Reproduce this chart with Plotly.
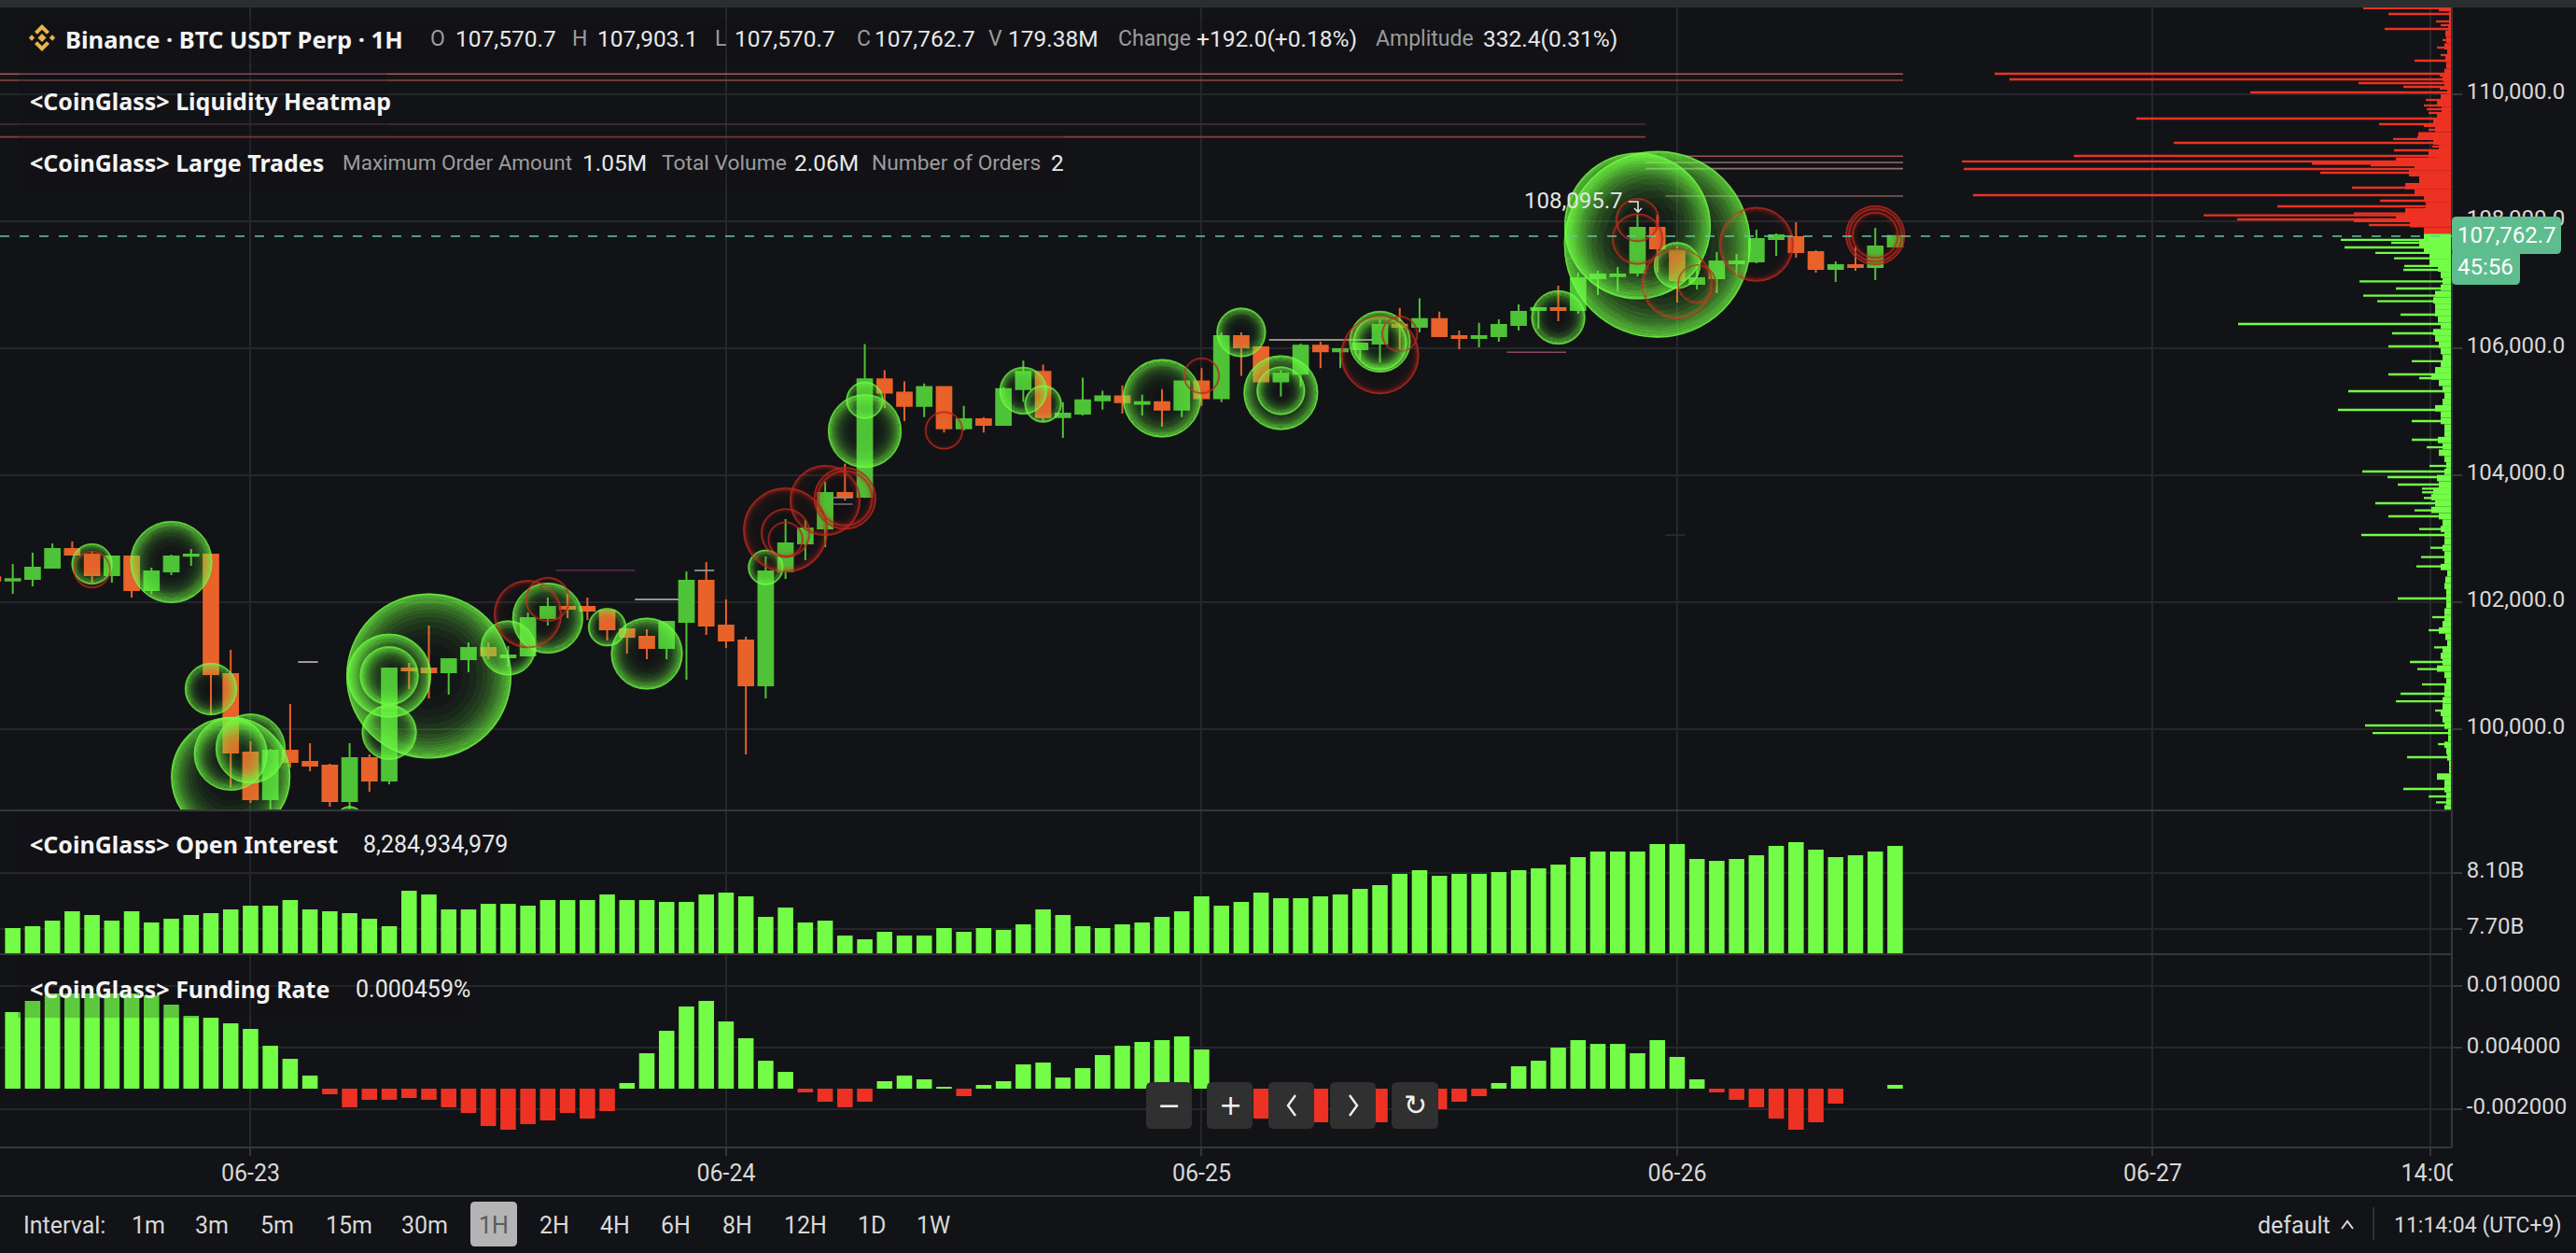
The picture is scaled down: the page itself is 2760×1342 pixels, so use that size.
import math
import pandas as pd
import plotly.graph_objects as go

W, H = 2760, 1342
START = pd.Timestamp("2025-06-22 12:00")

# ---------- candles (first candle is 06-22 11:00, last is 06-26 11:00) ----------
opens = [102387, 102338, 102363, 102539, 102834, 102745, 102422, 102716, 102187, 102481, 102726, 102745,
         100863, 99628, 98893, 99657, 99480, 99422, 98863, 99539, 99186, 100951, 100951, 100892,
         101098, 101275, 101128, 101157, 101745, 101922, 101922, 101863, 101569, 101451, 101275, 101686,
         102334, 101628, 101392, 100686, 102481, 102922, 103157, 103716, 103657, 105505, 105296, 105087,
         105385, 104733, 104879, 104790, 105353, 105625, 104910, 104967, 105176, 105239, 105119, 105145,
         105030, 105473, 105207, 106188, 106010, 105473, 105593, 106037, 105948, 105979, 106068, 106365,
         106334, 106454, 106188, 106156, 106187, 106363, 106598, 106628, 106598, 107098, 107133, 107187,
         107892, 107540, 107010, 107098, 107334, 107363, 107716, 107745, 107510, 107245, 107304, 107275, 107598]
closes = [102338, 102358, 102539, 102834, 102745, 102422, 102716, 102187, 102481, 102716, 102745, 100863,
          99628, 98893, 99657, 99480, 99422, 98863, 99539, 99186, 100951, 100922, 100892, 101098,
          101275, 101157, 101157, 101745, 101922, 101892, 101863, 101569, 101451, 101275, 101686, 102334,
          101628, 101392, 100686, 102481, 102922, 103157, 103716, 103657, 105505, 105296, 105087, 105385,
          104733, 104879, 104790, 105353, 105625, 104910, 104967, 105176, 105239, 105145, 105145, 105030,
          105473, 105207, 106188, 106010, 105473, 105593, 106037, 105948, 105979, 106068, 106365, 106334,
          106454, 106188, 106156, 106188, 106363, 106569, 106628, 106598, 107098, 107157, 107157, 107892,
          107569, 107069, 107098, 107363, 107363, 107716, 107775, 107510, 107245, 107304, 107275, 107598, 107763]
highs = [102400, 102598, 102775, 102922, 102951, 102804, 102716, 102716, 102539, 102745, 102834, 102745,
         101245, 99804, 99686, 100392, 99775, 99451, 99775, 99598, 100951, 101039, 101628, 101098,
         101363, 101363, 101304, 101834, 102069, 102128, 102069, 101863, 101569, 101569, 101686, 102481,
         102628, 102039, 101451, 102716, 103304, 103294, 103892, 104177, 106063, 105651, 105473, 105442,
         105385, 105087, 104910, 105385, 105802, 105739, 105145, 105531, 105327, 105411, 105265, 105353,
         105473, 105682, 106245, 106245, 106010, 105651, 106068, 106099, 105979, 106068, 106454, 106631,
         106782, 106574, 106276, 106396, 106451, 106687, 106628, 106981, 107187, 107216, 107275, 108098,
         108098, 107598, 107304, 107510, 107481, 107863, 107804, 107981, 107540, 107363, 107598, 107892, 107763]
lows = [102330, 102128, 102245, 102539, 102745, 102304, 102304, 102069, 102128, 102422, 102569, 100216,
        99079, 98834, 98686, 99392, 99334, 98775, 98735, 99010, 99128, 100628, 100481, 100539,
        100892, 101098, 100981, 101157, 101628, 101745, 101716, 101392, 101186, 101098, 101098, 100775,
        101481, 101275, 99598, 100481, 102363, 102657, 102863, 103598, 103638, 105056, 104847, 104910,
        104670, 104701, 104670, 104790, 105150, 104847, 104582, 104936, 105030, 104967, 104936, 104759,
        104910, 105087, 105145, 105562, 105473, 105233, 105385, 105682, 105682, 105828, 105771, 105979,
        106245, 106188, 105979, 106010, 106098, 106275, 106304, 106422, 106540, 106834, 106893, 107128,
        107187, 106716, 106922, 106863, 107128, 107334, 107451, 107422, 107187, 107040, 107216, 107069, 107598]

# ---------- indicators, one value per hour from 06-22 12:00 ----------
open_interest_b = [7.704, 7.718, 7.758, 7.825, 7.798, 7.758, 7.825, 7.745, 7.771, 7.798, 7.812, 7.838,
                   7.865, 7.865, 7.905, 7.838, 7.825, 7.812, 7.771, 7.718, 7.973, 7.946, 7.838, 7.838,
                   7.879, 7.879, 7.865, 7.905, 7.905, 7.905, 7.946, 7.905, 7.905, 7.892, 7.892, 7.946,
                   7.959, 7.932, 7.785, 7.852, 7.745, 7.758, 7.651, 7.624, 7.678, 7.651, 7.651,
                   7.704, 7.678, 7.704, 7.691, 7.731, 7.838, 7.798, 7.718, 7.704, 7.731, 7.745, 7.785,
                   7.825, 7.932, 7.865, 7.892, 7.959, 7.919, 7.919, 7.932, 7.946, 7.986, 8.013, 8.093,
                   8.120, 8.080, 8.093, 8.093, 8.107, 8.120, 8.133, 8.160, 8.214, 8.254, 8.254, 8.254,
                   8.308, 8.308, 8.200, 8.187, 8.200, 8.227, 8.294, 8.321, 8.267, 8.214, 8.227, 8.254, 8.294]
funding_rate = [.00747, .00857, .00930, .00930, .00930, .00930, .00930, .00911, .00820, .00711, .00693, .00638,
                .00583, .00419, .00292, .00128, -.00055, -.00182, -.00109, -.00109, -.00091, -.00109, -.00182, -.00237,
                -.00365, -.00401, -.00346, -.00310, -.00237, -.00292, -.00219, .00055, .00346, .00565, .00802, .00857,
                .00656, .00492, .00273, .00164, -.00036, -.00128, -.00182, -.00128, .00073, .00128, .00091, .00018,
                -.00073, .00036, .00073, .00237, .00255, .00109, .00201, .00328, .00419, .00456, .00474, .00510,
                .00383, -.00128, -.00219, -.00292, -.00310, -.00328, -.00328, -.00346, -.00346, -.00328, -.00273, -.00249,
                -.00201, -.00128, -.00073, .00055, .00219, .00273, .00401, .00474, .00437, .00437, .00346, .00474,
                .00310, .00091, -.00036, -.00109, -.00182, -.00292, -.00401, -.00328, -.00146, 0, 0, .00037]

# ---------- large trades: hours after 06-22 12:00, price, amount in million USDT ----------
buy_hour = [4, 8, 10, 11, 11, 12, 17, 21, 19, 19, 19, 25, 27, 30, 32, 38, 43, 43, 51, 52, 58, 62, 64, 64, 69, 69, 78, 83, 82, 84]
buy_price = [102598, 102628, 100628, 99245, 99608, 99691, 98564, 100833, 100839, 100839, 99946, 101275, 101745,
             101603, 101186, 102544, 104691, 105176, 105327, 105119, 105207, 106245, 105296, 105327, 106099,
             106078, 106481, 107633, 107922, 107299]
buy_amount = [4.84, 19.36, 7.84, 40.96, 15.60, 14.06, 2.25, 78.32, 20.25, 9.92, 8.70, 8.70, 14.44, 4.20, 14.82,
              3.61, 15.60, 4.00, 6.50, 4.00, 17.64, 7.02, 16.00, 6.76, 10.89, 8.41, 8.41, 100.0, 61.62, 6.25]
sell_hour = [4, 26, 27, 39, 39, 39, 41, 42, 42, 47, 60, 69, 70, 82, 82, 84, 85, 88, 94, 94, 94]
sell_price = [102510, 101809, 102039, 103133, 103084, 102986, 103598, 103632, 103632, 104702, 105562, 105890,
              106219, 108015, 107716, 107010, 107010, 107633, 107775, 107775, 107775]
sell_amount = [4.00, 13.32, 5.76, 20.70, 7.02, 3.61, 14.44, 11.22, 9.00, 4.20, 3.80, 17.64, 3.80, 5.52, 7.56,
               14.44, 4.41, 16.00, 10.24, 6.25, 8.41]

# ---------- liquidity levels ----------
level_price = [110315, 110216, 109525, 109324, 109021, 108922, 108824, 108393, 105932, 102500, 102040, 101054,
               102496, 103643, 103540, 106128, 103052]
level_start = [-1, -1, -1, -1, 84.4, 82.4, 82.4, 83.4, 75.4, 27.4, 31.4, 14.4, 34.4, 41.4, 41.4, 63.4, 83.4]
level_end = [95.4, 95.4, 82.4, 82.4, 95.4, 95.4, 95.4, 95.4, 78.4, 31.4, 33.6, 15.4, 35.4, 42.4, 42.4, 68.6, 84.4]
level_color = ["#a85a5a", "#8a4a4a", "#4a3040", "#8a4040", "#a05050", "#907070", "#907070", "#806060", "#8a4a5a",
               "#5a2a50", "#c0c0b0", "#c0c0b0", "#a0a0a0", "#909090", "#707070", "#c0c0b0", "#2a2a40"]

# ---------- order book depth profile at the right edge ----------
ask_spike_price = [111349, 111319, 111260, 111143, 111084, 111025, 110849, 110731, 110613, 110525, 110319, 110290,
                   110231, 110172, 110113, 110084, 110025, 109907, 109849, 109819, 109760, 109702, 109613, 109525,
                   109496, 109437, 109378, 109319, 109290, 109231, 109172, 109113, 109084, 109025, 109005, 108937,
                   108903, 108878, 108819, 108760, 108525, 108407, 108319, 108231, 108118, 108089, 108025, 107996,
                   107937]
ask_spike_depth = [95, 14, 68, 17, 12, 72, 10, 16, 12, 40, 490, 13, 474, 100, 52, 13, 216, 28, 10, 30, 27, 25, 338, 78,
                   30, 25, 20, 37, 63, 298, 21, 62, 13, 405, 15, 525, 150, 87, 523, 141, 107, 513, 77, 187, 105, 266,
                   230, 105, 89]
ask_base_price = list(range(111350, 107800, -100))
ask_base_depth = [4, 3, 3, 4, 7, 6, 8, 5, 7, 6, 8, 10, 8, 5, 12, 16, 11, 16, 20, 18, 36, 20, 14, 25, 60, 40, 46, 35,
                  50, 40, 30, 28, 50, 60, 45, 30]
bid_spike_price = [107702, 107657, 107584, 107496, 107412, 107290, 107231, 107050, 106937, 106824, 106736, 106525,
                   106378, 106231, 106025, 105790, 105584, 105525, 105319, 105025, 104848, 104554, 104436, 104142,
                   104054, 103966, 103848, 103784, 103726, 103637, 103554, 103441, 103348, 103147, 103054, 102853,
                   102706, 102559, 102054, 101760, 101554, 101284, 101054, 100941, 100701, 100554, 100436, 100289,
                   100054, 99936, 99760, 99554, 99054, 98936, 98843]
bid_spike_depth = [119, 65, 115, 82, 62, 51, 52, 99, 60, 95, 80, 55, 229, 64, 68, 43, 68, 35, 111, 122, 43, 43, 27, 24,
                   96, 69, 58, 32, 32, 30, 82, 40, 68, 35, 97, 23, 33, 38, 58, 21, 25, 19, 45, 37, 32, 55, 60, 18,
                   93, 85, 15, 48, 52, 25, 17]
bid_base_price = list(range(107750, 98700, -100))
bid_base_depth = [30, 35, 30, 24, 24, 15, 12, 10, 12, 18, 20, 18, 18, 15, 12, 20, 18, 14, 12, 10, 12, 18, 22, 14, 10, 8,
                  10, 18, 12, 12, 8, 8, 15, 10, 14, 8, 6, 8, 16, 14, 20, 22, 18, 22, 14, 10, 12, 8, 8, 10, 8, 8, 12, 5,
                  7, 8, 6, 6, 6, 8, 8, 10, 14, 7, 5, 10, 12, 10, 16, 8, 6, 8, 8, 10, 10, 12, 10, 8, 4, 4, 8, 6, 5, 3, 3,
                  16, 8, 8, 6, 6, 8]

# ---------- tick labels ----------
price_ticks = [100000, 102000, 104000, 106000, 108000, 110000]
oi_ticks = [7.70, 8.10]
oi_labels = ["7.70B", "8.10B"]
fr_ticks = [-0.002, 0.004, 0.010]
fr_labels = ["-0.002000", "0.004000", "0.010000"]
date_ticks = ["2025-06-23 00:00", "2025-06-24 00:00", "2025-06-25 00:00", "2025-06-26 00:00", "2025-06-27 00:00",
              "2025-06-27 14:00"]
date_labels = ["06-23", "06-24", "06-25", "06-26", "06-27", "14:00"]

# ---------- style ----------
BG = "#121316"
GRID = "#25272b"
SEP = "#35373a"
UP = "#4EC337"
DOWN = "#E8622A"
BRIGHT = "#73FD47"
RED = "#ED3223"
TXT = "#E8E8E8"
MUTED = "#9C9C9C"
SANS = "Noto Sans"
NUM = "Roboto"


def at(hours):
    return START + pd.Timedelta(hours=float(hours))


def iso(ts):
    return ts.strftime("%Y-%m-%d %H:%M:%S")


def px(x):
    return x / W


def py(y):
    return 1 - y / H


def path(points, close=True):
    s = "M " + " L ".join(f"{px(x):.6f},{py(y):.6f}" for x, y in points)
    return s + (" Z" if close else "")


def rrect(x0, y0, x1, y1, r=6):
    pts = [
        f"M {px(x0 + r):.6f},{py(y0):.6f}", f"L {px(x1 - r):.6f},{py(y0):.6f}",
        f"Q {px(x1):.6f},{py(y0):.6f} {px(x1):.6f},{py(y0 + r):.6f}", f"L {px(x1):.6f},{py(y1 - r):.6f}",
        f"Q {px(x1):.6f},{py(y1):.6f} {px(x1 - r):.6f},{py(y1):.6f}", f"L {px(x0 + r):.6f},{py(y1):.6f}",
        f"Q {px(x0):.6f},{py(y1):.6f} {px(x0):.6f},{py(y1 - r):.6f}", f"L {px(x0):.6f},{py(y0 + r):.6f}",
        f"Q {px(x0):.6f},{py(y0):.6f} {px(x0 + r):.6f},{py(y0):.6f}", "Z",
    ]
    return " ".join(pts)


fig = go.Figure()
candle_x = [iso(at(i - 1)) for i in range(len(opens))]
hour_x = [iso(at(i)) for i in range(len(open_interest_b))]

# liquidity levels
for p, a, b, c in zip(level_price, level_start, level_end, level_color):
    fig.add_trace(go.Scatter(x=[iso(at(a)), iso(at(b))], y=[p, p], mode="lines",
                             line=dict(color=c, width=1.6), hoverinfo="skip"))

fig.add_trace(go.Candlestick(
    x=candle_x, open=opens, high=highs, low=lows, close=closes,
    increasing=dict(line=dict(color=UP, width=2), fillcolor=UP),
    decreasing=dict(line=dict(color=DOWN, width=2), fillcolor=DOWN),
    whiskerwidth=0, hoverinfo="skip"))

# depth profile
fig.add_trace(go.Bar(y=ask_base_price[:len(ask_base_depth)], x=ask_base_depth, orientation="h", width=100,
                     marker=dict(color=RED, line=dict(width=0)), xaxis="x2", yaxis="y", hoverinfo="skip"))
fig.add_trace(go.Bar(y=ask_spike_price, x=ask_spike_depth, orientation="h", width=34,
                     marker=dict(color=RED, line=dict(width=0)), xaxis="x2", yaxis="y", hoverinfo="skip"))
fig.add_trace(go.Bar(y=bid_base_price[:len(bid_base_depth)], x=bid_base_depth, orientation="h", width=100,
                     marker=dict(color=BRIGHT, line=dict(width=0)), xaxis="x2", yaxis="y", hoverinfo="skip"))
fig.add_trace(go.Bar(y=bid_spike_price, x=bid_spike_depth, orientation="h", width=34,
                     marker=dict(color=BRIGHT, line=dict(width=0)), xaxis="x2", yaxis="y", hoverinfo="skip"))

# large trade bubbles: a stack of rings gives the soft glow toward the rim
edges = [1.00, .985, .97, .95, .93, .90, .87, .84, .80, .76, .71, .65, .58, .50, .40]
edges_in = edges[1:] + [.25]
buy_alpha = [1, 1, .95, .90, .80, .72, .62, .54, .45, .36, .27, .20, .13, .08, .04]
sell_alpha = [.95, .92, .80, .60, .38, .22, .14, .09, .06, .04, .025, .015, .01, .005, .002]
xs = [iso(at(h)) for h in buy_hour] + [iso(at(h)) for h in sell_hour]
ys = buy_price + sell_price
amounts = buy_amount + sell_amount
n_buy = len(buy_hour)
diam = [20 * math.sqrt(a) for a in amounts]
for r1, r0, ab, aS in zip(edges, edges_in, buy_alpha, sell_alpha):
    sizes = [d * (r1 + r0) / 2 for d in diam]
    widths = [d * (r1 - r0) / 2 + 0.12 for d in diam]
    colors = [f"rgba(112,255,68,{ab})"] * n_buy + [f"rgba(186,40,30,{aS})"] * (len(diam) - n_buy)
    fig.add_trace(go.Scatter(x=xs, y=ys, mode="markers", hoverinfo="skip",
                             marker=dict(size=sizes, sizemode="diameter", color="rgba(0,0,0,0)",
                                         line=dict(width=widths, color=colors))))
fig.add_trace(go.Scatter(x=xs, y=ys, mode="markers", hoverinfo="skip",
                         marker=dict(size=[d - 1.6 for d in diam], sizemode="diameter", color="rgba(0,0,0,0)",
                                     line=dict(width=1.6, color=["rgba(118,255,72,0.75)"] * n_buy
                                               + ["rgba(186,40,30,0.9)"] * (len(diam) - n_buy)))))

# indicators
fig.add_trace(go.Bar(x=hour_x, y=open_interest_b, width=2808000, marker=dict(color=BRIGHT, line=dict(width=0)),
                     xaxis="x", yaxis="y2", hoverinfo="skip"))
fig.add_trace(go.Bar(x=hour_x, y=funding_rate, width=2808000,
                     marker=dict(color=[BRIGHT if v >= 0 else RED for v in funding_rate], line=dict(width=0)),
                     xaxis="x", yaxis="y3", hoverinfo="skip"))

# ---------- shapes ----------
shapes = []


def rect(x0, y0, x1, y1, color, layer="above"):
    shapes.append(dict(type="rect", xref="paper", yref="paper", x0=px(x0), x1=px(x1), y0=py(y0), y1=py(y1),
                       fillcolor=color, line=dict(width=0), layer=layer))


def hline(y, x0, x1, color=SEP, width=2):
    shapes.append(dict(type="line", xref="paper", yref="paper", x0=px(x0), x1=px(x1), y0=py(y), y1=py(y),
                       line=dict(color=color, width=width), layer="above"))


def stroke(points, color="#F0F0F0", width=2.4):
    shapes.append(dict(type="path", xref="paper", yref="paper", layer="above", line=dict(color=color, width=width),
                       path=path(points, close=False)))


# legend plates
veil = "rgba(18,19,22,0.22)"
rect(20, 20, 1745, 68, veil)
rect(20, 75, 415, 140, veil)
rect(20, 140, 1140, 205, veil)
rect(19, 870, 545, 934, veil)
rect(19, 1027, 502, 1090, veil)

rect(0, 0, W, 8, "#2C2D2E")
hline(868, 0, 2627)
hline(1022, 0, 2627)
hline(1229, 0, 2627)
hline(1281, 0, W)
shapes.append(dict(type="line", xref="paper", yref="paper", x0=px(2627), x1=px(2627), y0=py(8), y1=py(1229),
                   line=dict(color=SEP, width=2), layer="above"))
# last price dashed line
shapes.append(dict(type="line", xref="x domain", yref="y", x0=0, x1=1, y0=closes[-1] - 3, y1=closes[-1] - 3,
                   line=dict(color="#5FC9A0", width=1.6, dash="10px,11px"), layer="above"))
# hide the part of the 14:00 label beyond the axis
rect(2628, 1231, W, 1279, BG)
# price tags
shapes.append(dict(type="path", xref="paper", yref="paper", path=rrect(2627, 232, 2744, 272, 5),
                   fillcolor="#5EBD8E", line=dict(width=0), layer="above"))
shapes.append(dict(type="path", xref="paper", yref="paper", path=rrect(2627, 268, 2700, 305, 5),
                   fillcolor="#5EBD8E", line=dict(width=0), layer="above"))
# binance logo
lx, ly = 45, 40.5
GOLD = "#E9B54B"
for pts in ([(0, -4.5), (4.5, 0), (0, 4.5), (-4.5, 0)],
            [(-11, -3.2), (-7.8, 0), (-11, 3.2), (-14.2, 0)],
            [(11, -3.2), (14.2, 0), (11, 3.2), (7.8, 0)],
            [(0, -14.5), (8, -6.5), (5, -3.8), (0, -8.8), (-5, -3.8), (-8, -6.5)],
            [(0, 14.5), (8, 6.5), (5, 3.8), (0, 8.8), (-5, 3.8), (-8, 6.5)]):
    shapes.append(dict(type="path", xref="paper", yref="paper", layer="above", fillcolor=GOLD, line=dict(width=0),
                       path=path([(lx + a, ly + b) for a, b in pts])))
# high marker arrow
stroke([(1745, 216), (1755, 216), (1755, 226)], "#E6E6E6", 1.6)
stroke([(1751, 223), (1755, 227), (1759, 223)], "#E6E6E6", 1.6)
# interval highlight
shapes.append(dict(type="path", xref="paper", yref="paper", path=rrect(504, 1287, 554, 1335, 5),
                   fillcolor="#B4B4B4", line=dict(width=0), layer="above"))
# zoom buttons
for x0, x1 in ((1228, 1277), (1293, 1342), (1359, 1408), (1425, 1474), (1491, 1541)):
    shapes.append(dict(type="path", xref="paper", yref="paper", path=rrect(x0, 1159, x1, 1209, 6),
                       fillcolor="#303030", line=dict(width=0), layer="above"))
stroke([(1388, 1173), (1380, 1184), (1388, 1195)])
stroke([(1446, 1173), (1454, 1184), (1446, 1195)])
stroke([(2509, 1316), (2515, 1308), (2521, 1316)], "#D8D8D8", 2)
# divider of bottom bar
shapes.append(dict(type="line", xref="paper", yref="paper", x0=px(2543), x1=px(2543), y0=py(1293), y1=py(1328),
                   line=dict(color="#2E3033", width=2), layer="above"))

# ---------- text ----------
notes = []


def label(x, y, text, color=TXT, size=23, family=NUM, weight=400, anchor="left"):
    notes.append(dict(x=px(x), y=py(y), xref="paper", yref="paper", text=text, showarrow=False, xanchor=anchor,
                      yanchor="middle", borderpad=0, font=dict(color=color, size=size, family=family, weight=weight)))


label(69, 42, "Binance · BTC USDT Perp · 1H", "#F4F4F4", 25.5, SANS, 700)
for x, t, c, s in ((460, "O", MUTED, 23), (487, "107,570.7", TXT, 24.5), (612, "H", MUTED, 23),
                   (639, "107,903.1", TXT, 24.5), (765, "L", MUTED, 23), (786, "107,570.7", TXT, 24.5),
                   (917, "C", MUTED, 23), (936, "107,762.7", TXT, 24.5), (1058, "V", MUTED, 23),
                   (1079, "179.38M", TXT, 24.5), (1197, "Change", MUTED, 23), (1281, "+192.0(+0.18%)", TXT, 24.5),
                   (1473, "Amplitude", MUTED, 23), (1588, "332.4(0.31%)", TXT, 24.5)):
    label(x, 42, t, c, s)
label(31, 108, "&lt;CoinGlass&gt; Liquidity Heatmap", "#F4F4F4", 25, SANS, 700)
label(31, 174, "&lt;CoinGlass&gt; Large Trades", "#F4F4F4", 25, SANS, 700)
for x, t, c, s in ((366, "Maximum Order Amount", MUTED, 22.5), (623, "1.05M", TXT, 24.5),
                   (708, "Total Volume", MUTED, 22.8), (850, "2.06M", TXT, 24.5),
                   (933, "Number of Orders", MUTED, 22.8), (1125, "2", TXT, 24.5)):
    label(x, 174, t, c, s)
label(31, 904, "&lt;CoinGlass&gt; Open Interest", "#F4F4F4", 25, SANS, 700)
label(388, 904, "8,284,934,979", TXT, 25)
label(31, 1059, "&lt;CoinGlass&gt; Funding Rate", "#F4F4F4", 25, SANS, 700)
label(380, 1059, "0.000459%", TXT, 25)
label(1632, 215, "108,095.7", "#E6E6E6", 24)
label(2685, 252, "107,762.7", "#FFFFFF", 24, anchor="center")
label(2663, 286, "45:56", "#FFFFFF", 24, anchor="center")

label(24, 1312, "Interval:", "#D8D8D8", 25)
for x, t in ((159, "1m"), (227, "3m"), (297, "5m"), (374, "15m"), (455, "30m"), (594, "2H"), (659, "4H"),
             (724, "6H"), (790, "8H"), (863, "12H"), (934, "1D"), (1000, "1W")):
    label(x, 1312, t, "#D8D8D8", 25, anchor="center")
label(529, 1312, "1H", "#5A5A5A", 25, anchor="center")
label(2418, 1312, "default", "#D8D8D8", 25)
label(2564, 1312, "11:14:04 (UTC+9)", "#D8D8D8", 23)
for x, t in ((1252, "−"), (1318, "+"), (1516, "↻")):
    label(x, 1183, t, "#F0F0F0", 30, "DejaVu Sans", anchor="center")

axis_font = dict(color="#D8D8D8", size=24, family=NUM)
yc = dict(side="right", anchor="x", gridcolor=GRID, gridwidth=2, zeroline=False, ticks="outside", ticklen=10,
          tickcolor=SEP, tickwidth=2, tickfont=axis_font, showline=False, ticklabelshift=-3, automargin=False)

fig.update_layout(
    width=W, height=H, margin=dict(l=0, r=0, t=0, b=0), autosize=False,
    paper_bgcolor=BG, plot_bgcolor=BG, showlegend=False, barmode="overlay",
    boxmode="overlay", boxgap=0.26, boxgroupgap=0, hovermode=False,
    shapes=shapes, annotations=notes,
    xaxis=dict(domain=[0, px(2627)], range=["2025-06-22 11:21:18", "2025-06-27 15:06:00"], type="date",
               anchor="y3", tickmode="array", tickvals=date_ticks, ticktext=date_labels,
               tickfont=dict(color="#D8D8D8", size=25, family=NUM), automargin=False, ticklabelstandoff=-3,
               gridcolor=GRID, gridwidth=2, ticks="outside", ticklen=8, tickcolor=SEP, tickwidth=2,
               zeroline=False, showline=False, rangeslider=dict(visible=False)),
    xaxis2=dict(domain=[0, px(2627)], range=[2627, 0], overlaying="x", anchor="y", visible=False, automargin=False),
    yaxis=dict(domain=[py(868), py(8)], range=[98716, 111363], tickmode="array", tickvals=price_ticks,
               tickformat=",.1f", **yc),
    yaxis2=dict(domain=[py(1022), py(868)], range=[7.517, 8.549], tickmode="array", tickvals=oi_ticks,
                ticktext=oi_labels, **yc),
    yaxis3=dict(domain=[py(1229), py(1022)], range=[-0.005745, 0.01313], tickmode="array", tickvals=fr_ticks,
                ticktext=fr_labels, **yc),
)

fig.write_html("out.html", config=dict(displayModeBar=False),
               post_script="document.body.style.margin='0';document.body.style.overflow='hidden';"
                           f"document.body.style.background='{BG}';")
